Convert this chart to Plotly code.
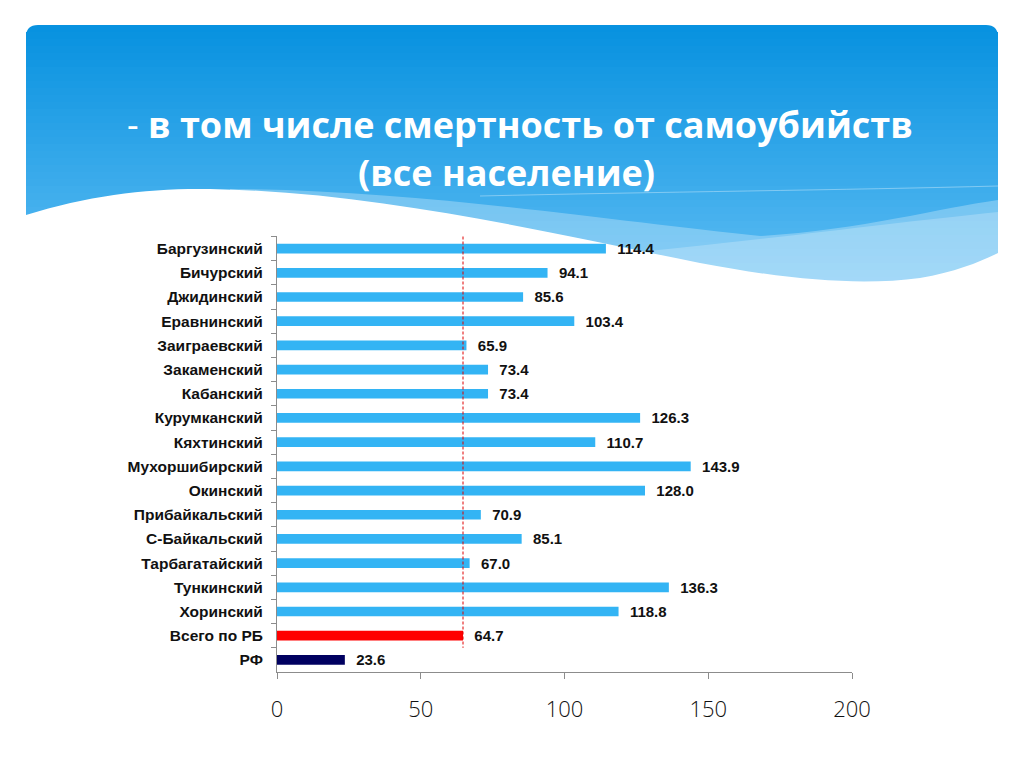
import plotly.graph_objects as go

categories = ["Баргузинский", "Бичурский", "Джидинский", "Еравнинский", "Заиграевский",
              "Закаменский", "Кабанский", "Курумканский", "Кяхтинский", "Мухоршибирский",
              "Окинский", "Прибайкальский", "С-Байкальский", "Тарбагатайский", "Тункинский",
              "Хоринский", "Всего по РБ", "РФ"]
values = [114.4, 94.1, 85.6, 103.4, 65.9, 73.4, 73.4, 126.3, 110.7, 143.9,
          128.0, 70.9, 85.1, 67.0, 136.3, 118.8, 64.7, 23.6]
bar_colors = ["#33b4f4"] * 16 + ["#ff0000", "#000060"]
rb_average = 64.7
x_ticks = [0, 50, 100, 150, 200]

OFF = 8  # page offset of the figure inside the browser window
W, H = 1024 - OFF, 768 - OFF
PW, PH = 575, 436
ML, MT = 277 - OFF, 236 - OFF
MR, MB = W - ML - PW, H - MT - PH


def px(x):
    return (x - OFF - ML) / PW


def py(y):
    return 1 - (y - OFF - MT) / PH


def cpath(cmds):
    out = []
    for c in cmds:
        if c[0] == "Z":
            out.append("Z")
        else:
            out.append(c[0] + " " + " ".join("%.5f,%.5f" % (px(a), py(b)) for a, b in c[1:]))
    return " ".join(out)


shapes = []
# gradient header
top, bottom = 25, 305
n = 40
c0 = (8, 146, 224)
c1 = (100, 192, 245)
for i in range(n):
    y0 = top + (bottom - top) * i / n
    y1 = top + (bottom - top) * (i + 1) / n + 0.6
    t = i / (n - 1)
    col = "rgb(%d,%d,%d)" % tuple(int(c0[k] + (c1[k] - c0[k]) * t) for k in range(3))
    if i == 0:
        r = 12
        d = cpath([("M", (26, y1)), ("L", (26, top + r)), ("C", (26, top + 4), (30, top), (26 + r, top)),
                   ("L", (998 - r, top)), ("C", (994, top), (998, top + 4), (998, top + r)),
                   ("L", (998, y1)), ("Z",)])
        shapes.append(dict(type="path", xref="paper", yref="paper", path=d,
                           fillcolor=col, line=dict(width=0), layer="below"))
    else:
        shapes.append(dict(type="rect", xref="paper", yref="paper",
                           x0=px(26), x1=px(998), y0=py(y0), y1=py(y1),
                           fillcolor=col, line=dict(width=0), layer="below"))

# light translucent wave bands
shapes.append(dict(type="path", xref="paper", yref="paper", layer="below",
                   path=cpath([("M", (230, 189)), ("C", (420, 190), (620, 222), (760, 236)),
                               ("C", (860, 230), (940, 208), (998, 200)),
                               ("L", (998, 320)), ("L", (230, 320)), ("Z",)]),
                   fillcolor="rgba(255,255,255,0.28)", line=dict(width=0)))
shapes.append(dict(type="path", xref="paper", yref="paper", layer="below",
                   path=cpath([("M", (640, 252)), ("C", (760, 240), (900, 222), (998, 212)),
                               ("L", (998, 320)), ("L", (640, 320)), ("Z",)]),
                   fillcolor="rgba(255,255,255,0.22)", line=dict(width=0)))
shapes.append(dict(type="path", xref="paper", yref="paper", layer="below",
                   path=cpath([("M", (480, 196)), ("C", (650, 192), (850, 190), (998, 186))]),
                   line=dict(color="rgba(255,255,255,0.35)", width=1)))
# white wave
shapes.append(dict(type="path", xref="paper", yref="paper", layer="below",
                   path=cpath([("M", (26, 215)), ("C", (90, 195), (150, 188), (210, 189)),
                               ("C", (380, 192), (560, 235), (700, 263)),
                               ("C", (790, 280), (860, 286), (920, 278)),
                               ("C", (955, 272), (980, 262), (998, 253)),
                               ("L", (998, 320)), ("L", (26, 320)), ("Z",)]),
                   fillcolor="white", line=dict(width=0)))

# reference dashed line (average for RB)
shapes.append(dict(type="line", xref="x", yref="y", x0=rb_average, x1=rb_average,
                   y0=-0.5, y1=16.5, line=dict(color="#e00000", width=1, dash="3px,2px"),
                   layer="above"))

fig = go.Figure()
fig.add_trace(go.Bar(
    y=categories, x=values, orientation="h", width=0.4,
    marker=dict(color=bar_colors, line=dict(width=0)),
    text=values, texttemplate="  %{x:.1f}", textposition="outside",
    constraintext="none", cliponaxis=False,
    textfont=dict(family="Liberation Sans", size=15, color="#111111", weight="bold"),
    hoverinfo="skip",
))

fig.update_layout(
    width=W, height=H,
    margin=dict(l=ML, r=MR, t=MT, b=MB, pad=0),
    paper_bgcolor="white", plot_bgcolor="rgba(0,0,0,0)",
    showlegend=False,
    shapes=shapes,
    annotations=[
        dict(xref="paper", yref="paper", x=px(520), y=py(124), xanchor="center", yanchor="middle",
             text="- <b>в том числе смертность от самоубийств</b>", showarrow=False,
             font=dict(family="Open Sans", size=36, color="white")),
        dict(xref="paper", yref="paper", x=px(506), y=py(172), xanchor="center", yanchor="middle",
             text="<b>(все население)</b>", showarrow=False,
             font=dict(family="Open Sans", size=36, color="white")),
    ],
    xaxis=dict(range=[0, 200], tickvals=x_ticks, showgrid=False, zeroline=False,
               showline=True, linecolor="#8c8c8c", linewidth=1,
               ticks="outside", ticklen=6, tickcolor="#8c8c8c",
               tickfont=dict(family="Open Sans", size=22, color="#111111", weight=300),
               ticklabelstandoff=12),
    yaxis=dict(autorange="reversed", showgrid=False, zeroline=False,
               showline=True, linecolor="#8c8c8c", linewidth=1,
               ticks="outside", ticklen=5, tickcolor="#8c8c8c", tickson="boundaries",
               tickfont=dict(family="Liberation Sans", size=15.5, color="#111111", weight="bold"),
               ticklabelstandoff=10),
)

fig.write_html("out.html")
